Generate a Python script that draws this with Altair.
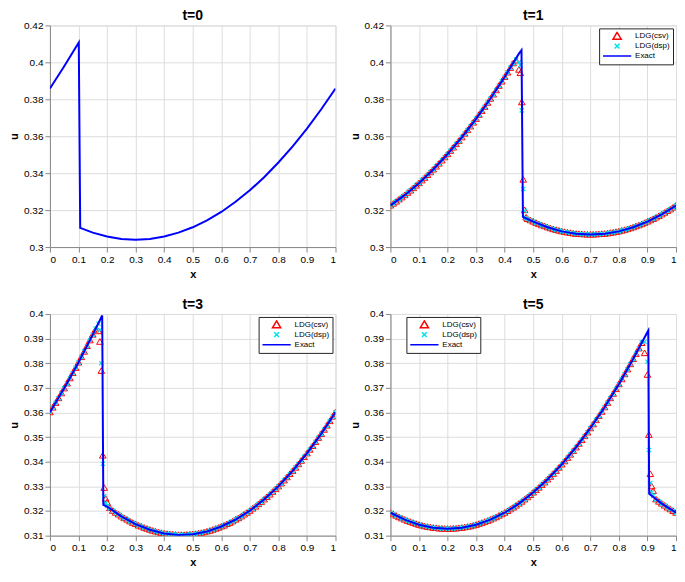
import altair as alt
import pandas as pd

# ---------------- data ----------------
X_TICKS = [0, 0.1, 0.2, 0.3, 0.4, 0.5, 0.6, 0.7, 0.8, 0.9, 1]
Y_TICKS_TOP = [0.3, 0.32, 0.34, 0.36, 0.38, 0.4, 0.42]
Y_TICKS_BOT = [0.31, 0.32, 0.33, 0.34, 0.35, 0.36, 0.37, 0.38, 0.39, 0.4]

SERIES = ["LDG(csv)", "LDG(dsp)", "Exact"]

# common marker abscissae
GRID_X = [0.00, 0.01, 0.02, 0.03, 0.04, 0.05, 0.06, 0.07, 0.08, 0.09,
          0.10, 0.11, 0.12, 0.13, 0.14, 0.15, 0.16, 0.17, 0.18, 0.19,
          0.20, 0.21, 0.22, 0.23, 0.24, 0.25, 0.26, 0.27, 0.28, 0.29,
          0.30, 0.31, 0.32, 0.33, 0.34, 0.35, 0.36, 0.37, 0.38, 0.39,
          0.40, 0.41, 0.42, 0.43, 0.44, 0.45, 0.46, 0.47, 0.48, 0.49,
          0.50, 0.51, 0.52, 0.53, 0.54, 0.55, 0.56, 0.57, 0.58, 0.59,
          0.60, 0.61, 0.62, 0.63, 0.64, 0.65, 0.66, 0.67, 0.68, 0.69,
          0.70, 0.71, 0.72, 0.73, 0.74, 0.75, 0.76, 0.77, 0.78, 0.79,
          0.80, 0.81, 0.82, 0.83, 0.84, 0.85, 0.86, 0.87, 0.88, 0.89,
          0.90, 0.91, 0.92, 0.93, 0.94, 0.95, 0.96, 0.97, 0.98, 0.99, 1.00]

# t = 0 (exact only)
T0_EX_X = [0.00, 0.05, 0.101, 0.106, 0.15, 0.20, 0.25, 0.30, 0.35, 0.40, 0.45,
           0.50, 0.55, 0.60, 0.65, 0.70, 0.75, 0.80, 0.85, 0.90, 0.95, 1.00]
T0_EX_U = [0.3858, 0.3979, 0.4107, 0.3104, 0.3078, 0.3057, 0.3044, 0.3040, 0.3044, 0.3057, 0.3078,
           0.3107, 0.3144, 0.3190, 0.3245, 0.3307, 0.3378, 0.3458, 0.3545, 0.3641, 0.3746, 0.3858]

# t = 1
T1_EX_X = [0.00, 0.05, 0.10, 0.15, 0.20, 0.25, 0.30, 0.35, 0.40, 0.45, 0.459, 0.464,
           0.50, 0.55, 0.60, 0.65, 0.70, 0.75, 0.80, 0.85, 0.90, 0.95, 1.00]
T1_EX_U = [0.3225, 0.3281, 0.3346, 0.3420, 0.3503, 0.3594, 0.3694, 0.3803, 0.3921, 0.4047, 0.4066, 0.3163,
           0.3138, 0.3107, 0.3085, 0.3072, 0.3068, 0.3072, 0.3085, 0.3107, 0.3138, 0.3177, 0.3225]
T1_CSV = [0.3225, 0.3235, 0.3246, 0.3258, 0.3269, 0.3281, 0.3294, 0.3306, 0.3319, 0.3333,
          0.3346, 0.3361, 0.3375, 0.3390, 0.3405, 0.3420, 0.3436, 0.3452, 0.3469, 0.3486,
          0.3503, 0.3521, 0.3539, 0.3557, 0.3575, 0.3594, 0.3614, 0.3633, 0.3653, 0.3674,
          0.3694, 0.3716, 0.3737, 0.3759, 0.3781, 0.3803, 0.3826, 0.3849, 0.3873, 0.3896,
          0.3921, 0.3945, 0.3970, 0.3995, 0.4010, 0.3960, 0.3784, 0.3200, 0.3152, 0.3145,
          0.3138, 0.3131, 0.3124, 0.3118, 0.3113, 0.3107, 0.3102, 0.3097, 0.3093, 0.3089,
          0.3085, 0.3082, 0.3079, 0.3077, 0.3074, 0.3072, 0.3071, 0.3070, 0.3069, 0.3068,
          0.3068, 0.3068, 0.3069, 0.3070, 0.3071, 0.3072, 0.3074, 0.3077, 0.3079, 0.3082,
          0.3085, 0.3089, 0.3093, 0.3097, 0.3102, 0.3107, 0.3113, 0.3118, 0.3124, 0.3131,
          0.3138, 0.3145, 0.3152, 0.3160, 0.3168, 0.3177, 0.3186, 0.3195, 0.3204, 0.3214, 0.3225]
T1_DSP = [0.3225, 0.3235, 0.3246, 0.3258, 0.3269, 0.3281, 0.3294, 0.3306, 0.3319, 0.3333,
          0.3346, 0.3361, 0.3375, 0.3390, 0.3405, 0.3420, 0.3436, 0.3452, 0.3469, 0.3486,
          0.3503, 0.3521, 0.3539, 0.3557, 0.3575, 0.3594, 0.3614, 0.3633, 0.3653, 0.3674,
          0.3694, 0.3716, 0.3737, 0.3759, 0.3781, 0.3803, 0.3826, 0.3849, 0.3873, 0.3896,
          0.3921, 0.3945, 0.3970, 0.3995, 0.4015, 0.4000, 0.3740, 0.3196, 0.3152, 0.3145,
          0.3138, 0.3131, 0.3124, 0.3118, 0.3113, 0.3107, 0.3102, 0.3097, 0.3093, 0.3089,
          0.3085, 0.3082, 0.3079, 0.3077, 0.3074, 0.3072, 0.3071, 0.3070, 0.3069, 0.3068,
          0.3068, 0.3068, 0.3069, 0.3070, 0.3071, 0.3072, 0.3074, 0.3077, 0.3079, 0.3082,
          0.3085, 0.3089, 0.3093, 0.3097, 0.3102, 0.3107, 0.3113, 0.3118, 0.3124, 0.3131,
          0.3138, 0.3145, 0.3152, 0.3160, 0.3168, 0.3177, 0.3186, 0.3195, 0.3204, 0.3214, 0.3225]
T1_XTRA_X = [0.455, 0.465, 0.475]
T1_XTRA_CSV = [0.3942, 0.3365, 0.3160]
T1_XTRA_DSP = [0.3985, 0.3314, 0.3158]

# t = 3
T3_EX_X = [0.00, 0.05, 0.10, 0.15, 0.183, 0.187, 0.20, 0.25, 0.30, 0.35, 0.40, 0.45,
           0.50, 0.55, 0.60, 0.65, 0.70, 0.75, 0.80, 0.85, 0.90, 0.95, 1.00]
T3_EX_U = [0.3601, 0.3698, 0.3803, 0.3916, 0.3994, 0.3225, 0.3218, 0.3178, 0.3147, 0.3124, 0.3109, 0.3103,
           0.3106, 0.3117, 0.3137, 0.3165, 0.3201, 0.3247, 0.3300, 0.3363, 0.3434, 0.3513, 0.3601]
T3_CSV = [0.3601, 0.3620, 0.3639, 0.3658, 0.3678, 0.3698, 0.3718, 0.3739, 0.3760, 0.3781,
          0.3803, 0.3825, 0.3847, 0.3870, 0.3893, 0.3916, 0.3937, 0.3930, 0.3769, 0.3294,
          0.3235, 0.3212, 0.3201, 0.3193, 0.3186, 0.3178, 0.3171, 0.3165, 0.3158, 0.3152,
          0.3147, 0.3141, 0.3137, 0.3132, 0.3128, 0.3124, 0.3120, 0.3117, 0.3114, 0.3111,
          0.3109, 0.3107, 0.3106, 0.3105, 0.3104, 0.3103, 0.3103, 0.3103, 0.3104, 0.3105,
          0.3106, 0.3107, 0.3109, 0.3111, 0.3114, 0.3117, 0.3120, 0.3124, 0.3128, 0.3132,
          0.3137, 0.3141, 0.3147, 0.3152, 0.3158, 0.3165, 0.3171, 0.3178, 0.3186, 0.3193,
          0.3201, 0.3210, 0.3218, 0.3228, 0.3237, 0.3247, 0.3257, 0.3267, 0.3278, 0.3289,
          0.3300, 0.3312, 0.3324, 0.3337, 0.3350, 0.3363, 0.3376, 0.3390, 0.3404, 0.3419,
          0.3434, 0.3449, 0.3464, 0.3480, 0.3497, 0.3513, 0.3530, 0.3547, 0.3565, 0.3583, 0.3601]
T3_DSP = [0.3601, 0.3620, 0.3639, 0.3658, 0.3678, 0.3698, 0.3718, 0.3739, 0.3760, 0.3781,
          0.3803, 0.3825, 0.3847, 0.3870, 0.3893, 0.3916, 0.3940, 0.3960, 0.3800, 0.3261,
          0.3220, 0.3210, 0.3201, 0.3193, 0.3186, 0.3178, 0.3171, 0.3165, 0.3158, 0.3152,
          0.3147, 0.3141, 0.3137, 0.3132, 0.3128, 0.3124, 0.3120, 0.3117, 0.3114, 0.3111,
          0.3109, 0.3107, 0.3106, 0.3105, 0.3104, 0.3103, 0.3103, 0.3103, 0.3104, 0.3105,
          0.3106, 0.3107, 0.3109, 0.3111, 0.3114, 0.3117, 0.3120, 0.3124, 0.3128, 0.3132,
          0.3137, 0.3141, 0.3147, 0.3152, 0.3158, 0.3165, 0.3171, 0.3178, 0.3186, 0.3193,
          0.3201, 0.3210, 0.3218, 0.3228, 0.3237, 0.3247, 0.3257, 0.3267, 0.3278, 0.3289,
          0.3300, 0.3312, 0.3324, 0.3337, 0.3350, 0.3363, 0.3376, 0.3390, 0.3404, 0.3419,
          0.3434, 0.3449, 0.3464, 0.3480, 0.3497, 0.3513, 0.3530, 0.3547, 0.3565, 0.3583, 0.3601]
T3_XTRA_X = [0.175, 0.185, 0.195]
T3_XTRA_CSV = [0.3887, 0.3425, 0.3250]
T3_XTRA_DSP = [0.3935, 0.3392, 0.3232]

# t = 5
T5_EX_X = [0.00, 0.05, 0.10, 0.15, 0.20, 0.25, 0.30, 0.35, 0.40, 0.45, 0.50, 0.55,
           0.60, 0.65, 0.70, 0.75, 0.80, 0.85, 0.90, 0.903, 0.906, 0.95, 1.00]
T5_EX_U = [0.3193, 0.3165, 0.3144, 0.3132, 0.3128, 0.3132, 0.3144, 0.3165, 0.3193, 0.3230, 0.3275, 0.3328,
           0.3389, 0.3458, 0.3536, 0.3621, 0.3715, 0.3817, 0.3927, 0.3933, 0.3270, 0.3230, 0.3193]
T5_CSV = [0.3193, 0.3187, 0.3181, 0.3175, 0.3170, 0.3165, 0.3160, 0.3156, 0.3152, 0.3148,
          0.3144, 0.3141, 0.3138, 0.3136, 0.3134, 0.3132, 0.3131, 0.3129, 0.3129, 0.3128,
          0.3128, 0.3128, 0.3129, 0.3129, 0.3131, 0.3132, 0.3134, 0.3136, 0.3138, 0.3141,
          0.3144, 0.3148, 0.3152, 0.3156, 0.3160, 0.3165, 0.3170, 0.3175, 0.3181, 0.3187,
          0.3193, 0.3200, 0.3207, 0.3214, 0.3222, 0.3230, 0.3238, 0.3247, 0.3256, 0.3265,
          0.3275, 0.3285, 0.3295, 0.3306, 0.3316, 0.3328, 0.3339, 0.3351, 0.3363, 0.3376,
          0.3389, 0.3402, 0.3416, 0.3429, 0.3444, 0.3458, 0.3473, 0.3488, 0.3504, 0.3519,
          0.3536, 0.3552, 0.3569, 0.3586, 0.3603, 0.3621, 0.3639, 0.3658, 0.3676, 0.3695,
          0.3715, 0.3735, 0.3755, 0.3775, 0.3796, 0.3817, 0.3838, 0.3860, 0.3882, 0.3841,
          0.3753, 0.3350, 0.3281, 0.3247, 0.3238, 0.3230, 0.3222, 0.3214, 0.3207, 0.3200, 0.3193]
T5_DSP = [0.3193, 0.3187, 0.3181, 0.3175, 0.3170, 0.3165, 0.3160, 0.3156, 0.3152, 0.3148,
          0.3144, 0.3141, 0.3138, 0.3136, 0.3134, 0.3132, 0.3131, 0.3129, 0.3129, 0.3128,
          0.3128, 0.3128, 0.3129, 0.3129, 0.3131, 0.3132, 0.3134, 0.3136, 0.3138, 0.3141,
          0.3144, 0.3148, 0.3152, 0.3156, 0.3160, 0.3165, 0.3170, 0.3175, 0.3181, 0.3187,
          0.3193, 0.3200, 0.3207, 0.3214, 0.3222, 0.3230, 0.3238, 0.3247, 0.3256, 0.3265,
          0.3275, 0.3285, 0.3295, 0.3306, 0.3316, 0.3328, 0.3339, 0.3351, 0.3363, 0.3376,
          0.3389, 0.3402, 0.3416, 0.3429, 0.3444, 0.3458, 0.3473, 0.3488, 0.3504, 0.3519,
          0.3536, 0.3552, 0.3569, 0.3586, 0.3603, 0.3621, 0.3639, 0.3658, 0.3676, 0.3695,
          0.3715, 0.3735, 0.3755, 0.3775, 0.3796, 0.3817, 0.3838, 0.3860, 0.3885, 0.3887,
          0.3806, 0.3314, 0.3262, 0.3247, 0.3238, 0.3230, 0.3222, 0.3214, 0.3207, 0.3200, 0.3193]
T5_XTRA_X = [0.905, 0.915]
T5_XTRA_CSV = [0.3509, 0.3300]
T5_XTRA_DSP = [0.3448, 0.3275]

# ---------------- styling ----------------
FONT = "Liberation Sans"
INK = "#262626"
COLORS = ["#ff0000", "#00e0ee", "#0000ff"]
# small glyphs drawn inside a large symbol box, so that the legend column is
# wide enough for the long "Exact" line sample
SHAPES = ["M0,-0.27L0.29,0.22L-0.29,0.22Z",
          "M-0.17,-0.17L0.17,0.17M0.17,-0.17L-0.17,0.17",
          "M-1,0L1,0"]
CSV_SIZE, DSP_SIZE, LEG_SIZE = 520, 620, 800
W, H = 286, 222

INDEP = dict(color="independent", shape="independent")


def make_panel(title, ex_x, ex_u, y_dom, y_ticks,
               mk_x=None, csv=None, dsp=None, legend=None):
    ex_df = pd.DataFrame({"x": ex_x, "u": ex_u, "series": "Exact"})
    xenc = alt.X("x:Q", scale=alt.Scale(domain=[0, 1], nice=False, zero=False),
                 axis=alt.Axis(values=X_TICKS, format="~g", title="x"))
    yenc = alt.Y("u:Q", scale=alt.Scale(domain=y_dom, nice=False, zero=False),
                 axis=alt.Axis(values=y_ticks, format="~g", title="u"))
    ttl = alt.TitleParams(title, fontSize=14, fontWeight="bold", font=FONT,
                          color="#000000", offset=-3)
    if mk_x is None:
        line = alt.Chart(ex_df).mark_line(color="#0000ff", strokeWidth=2, clip=True).encode(
            x=xenc, y=yenc)
        return line.properties(title=ttl, width=W, height=H)
    csv_df = pd.DataFrame({"x": mk_x, "u": csv, "series": "LDG(csv)"})
    dsp_df = pd.DataFrame({"x": mk_x, "u": dsp, "series": "LDG(dsp)"})
    color = alt.Color("series:N", scale=alt.Scale(domain=SERIES, range=COLORS), legend=legend)
    shape = alt.Shape("series:N", scale=alt.Scale(domain=SERIES, range=SHAPES), legend=legend)
    p_csv = alt.Chart(csv_df).mark_point(filled=False, strokeWidth=1, opacity=1, size=CSV_SIZE,
                                         clip=True).encode(x=xenc, y=yenc, color=color, shape=shape)
    p_dsp = alt.Chart(dsp_df).mark_point(filled=False, strokeWidth=1.2, opacity=1, size=DSP_SIZE,
                                         clip=True).encode(x=xenc, y=yenc, color=color, shape=shape)
    line = alt.Chart(ex_df).mark_line(strokeWidth=2, clip=True).encode(
        x=xenc, y=yenc, color=color)
    return alt.layer(p_csv, p_dsp, line).properties(title=ttl, width=W, height=H)


def leg(**kw):
    return alt.Legend(title=None, fillColor="white", strokeColor=INK, padding=3,
                      labelFont=FONT, labelFontSize=8, labelColor="#000000",
                      symbolStrokeWidth=1.5, symbolSize=LEG_SIZE, clipHeight=9.5,
                      rowPadding=0, labelOffset=3, cornerRadius=0, **kw)


p0 = make_panel("t=0", T0_EX_X, T0_EX_U, [0.3, 0.42], Y_TICKS_TOP)
p1 = make_panel("t=1", T1_EX_X, T1_EX_U, [0.3, 0.42], Y_TICKS_TOP,
                GRID_X + T1_XTRA_X, T1_CSV + T1_XTRA_CSV, T1_DSP + T1_XTRA_DSP,
                leg(orient="top-right", offset=3))
p3 = make_panel("t=3", T3_EX_X, T3_EX_U, [0.31, 0.4], Y_TICKS_BOT,
                GRID_X + T3_XTRA_X, T3_CSV + T3_XTRA_CSV, T3_DSP + T3_XTRA_DSP,
                leg(orient="top-right", offset=3))
p5 = make_panel("t=5", T5_EX_X, T5_EX_U, [0.31, 0.4], Y_TICKS_BOT,
                GRID_X + T5_XTRA_X, T5_CSV + T5_XTRA_CSV, T5_DSP + T5_XTRA_DSP,
                leg(orient="none", legendX=16, legendY=3))

row1 = alt.hconcat(p0, p1, spacing=12).resolve_scale(**INDEP).resolve_legend(**INDEP)
row2 = alt.hconcat(p3, p5, spacing=12).resolve_scale(**INDEP).resolve_legend(**INDEP)
chart = alt.vconcat(row1, row2, spacing=17).resolve_scale(**INDEP).resolve_legend(**INDEP)

chart = chart.properties(padding=0).configure_view(stroke=INK, strokeWidth=1).configure_axis(
    grid=True, gridColor="#dcdcdc", gridWidth=1,
    domainColor=INK, domainWidth=1, ticks=False,
    labelFont=FONT, labelFontSize=10, labelColor=INK, labelPadding=3,
    titleFont=FONT, titleFontSize=14, titleFontWeight="normal", titleColor=INK,
).configure_axisY(titlePadding=1).configure_axisX(titlePadding=1).configure(
    background="white")

chart.save("out.html", embed_options={"renderer": "svg", "actions": False})
